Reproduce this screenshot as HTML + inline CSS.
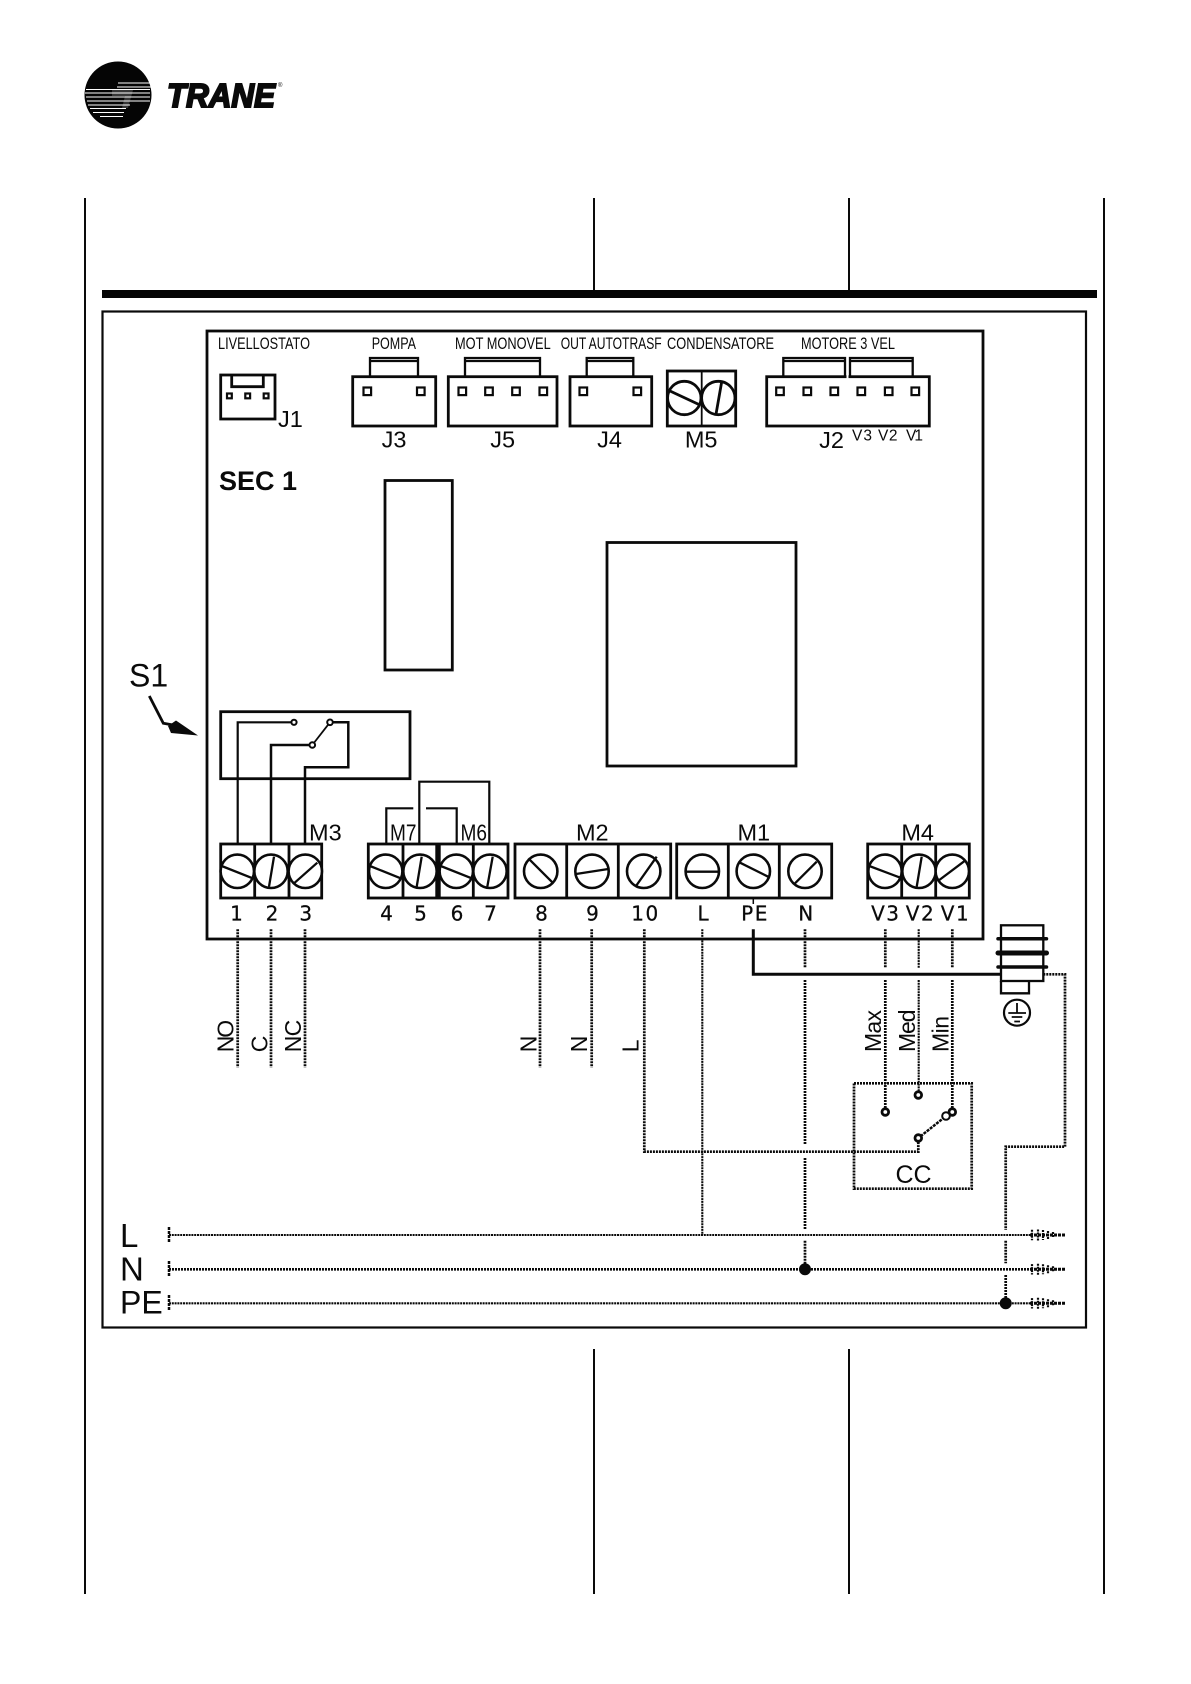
<!DOCTYPE html>
<html><head><meta charset="utf-8"><style>
html,body{margin:0;padding:0;background:#fff}
svg{display:block}
text{font-family:"Liberation Sans",sans-serif;fill:#0a0a0a}
.b{fill:none;stroke:#0a0a0a;stroke-width:2.8}
.t{fill:none;stroke:#0a0a0a;stroke-width:1.8}
.s{fill:#fff;stroke:#0a0a0a;stroke-width:2}
.d{fill:none;stroke:#0a0a0a;stroke-width:2.7;stroke-dasharray:2 1}
.h{fill:none;stroke:#0a0a0a;stroke-width:2.100;stroke-dasharray:2 .8}
.sl{font-size:16.5px}
.c{font-size:23.5px;text-anchor:middle}
.n{font-family:"DejaVu Sans",sans-serif;font-size:20px;text-anchor:middle;letter-spacing:1.5px;fill:#0a0a0a;stroke:#0a0a0a;stroke-width:.25}
.r{font-size:23px}
</style></head><body>
<svg xmlns="http://www.w3.org/2000/svg" width="1191" height="1684" viewBox="0 0 1191 1684">
<rect width="1191" height="1684" fill="#fff"/>

<!-- logo -->
<circle cx="118" cy="95" r="33.500" fill="#050505"/>
<g stroke="#fff" stroke-width="1.100" fill="none">
<path d="M118 83H151M117 87H151" stroke-width=".9"/>
<path d="M86 89.500H150M85 93H150M86 97H150M87 101H150M88 105H130M90 108.500H126M93 112.500H124M100 116.500H123"/>
</g>
<path d="M112 90H133L128 108H122L125 96H112Z" fill="#fff" opacity=".2"/>
<text x="167" y="107" font-size="33" font-weight="bold" font-style="italic" textLength="108" lengthAdjust="spacingAndGlyphs" stroke="#0a0a0a" stroke-width="2">TRANE</text>
<text x="278" y="87" font-size="6">®</text>

<!-- page rules -->
<g stroke="#0a0a0a" stroke-width="2" fill="none">
<path d="M85 198V291M85 1348V1594M1104 198V291M1104 1348V1594M85 290V1348M1104 290V1348"/>
<path d="M594 198V291M849 198V291M594 1349V1594M849 1349V1594"/>
</g>
<rect x="102" y="290" width="995" height="8" fill="#050505"/>
<rect x="102.500" y="311.500" width="983.500" height="1016" fill="#fff" stroke="#0a0a0a" stroke-width="2.200"/>

<!-- board -->
<rect x="207" y="331" width="776" height="608" fill="none" stroke="#0a0a0a" stroke-width="2.800"/>
<rect x="385" y="480.500" width="67.300" height="189.500" class="b"/>
<rect x="607" y="542.500" width="189" height="223.500" class="b"/>

<!-- top labels -->
<text class="sl" x="218" y="349" textLength="92" lengthAdjust="spacingAndGlyphs">LIVELLOSTATO</text>
<text class="sl" x="371.700" y="349" textLength="44.300" lengthAdjust="spacingAndGlyphs">POMPA</text>
<text class="sl" x="455" y="349" textLength="95.700" lengthAdjust="spacingAndGlyphs">MOT MONOVEL</text>
<text class="sl" x="560.700" y="349" textLength="101" lengthAdjust="spacingAndGlyphs">OUT AUTOTRASF</text>
<text class="sl" x="667" y="349" textLength="107" lengthAdjust="spacingAndGlyphs">CONDENSATORE</text>
<text class="sl" x="801" y="349" textLength="94" lengthAdjust="spacingAndGlyphs">MOTORE 3 VEL</text>

<!-- J1 -->
<rect x="220.700" y="375" width="54.300" height="44" class="b"/>
<path d="M231.700 375V386.700H263.300V375" class="b"/>
<g fill="#fff" stroke="#0a0a0a" stroke-width="2.200"><rect x="227" y="393.500" width="4.800" height="4.800"/><rect x="245.300" y="393.500" width="4.800" height="4.800"/><rect x="263.700" y="393.500" width="4.800" height="4.800"/></g>
<text x="278" y="427" font-size="23.500">J1</text>

<!-- J3 -->
<rect x="352.700" y="376.700" width="83" height="49.300" class="b"/>
<path d="M370 376.700V358H418V376.700M370 361H418" class="b" style="stroke-width:2.300"/>
<!-- J5 -->
<rect x="448.300" y="376.700" width="108.700" height="49.300" class="b"/>
<path d="M465 376.700V358H540V376.700M465 361H540" class="b" style="stroke-width:2.300"/>
<!-- J4 -->
<rect x="570" y="376.700" width="81.700" height="49.300" class="b"/>
<path d="M586.700 376.700V358H633.300V376.700M586.700 361H633.300" class="b" style="stroke-width:2.300"/>
<!-- J2 -->
<rect x="766.700" y="376.700" width="162.600" height="49.300" class="b"/>
<path d="M783.300 376.700V358H845V376.700M783.300 361H845M850 376.700V358H912.700V376.700M850 361H912.700" class="b" style="stroke-width:2.300"/>
<path d="M846.500 376.700H848.500" stroke="#fff" stroke-width="3.500"/>
<g fill="#fff" stroke="#0a0a0a" stroke-width="2.200">
<rect x="363.500" y="387.500" width="7.600" height="7.600"/><rect x="417" y="387.500" width="7.600" height="7.600"/>
<rect x="458.500" y="387.500" width="7.600" height="7.600"/><rect x="485.200" y="387.500" width="7.600" height="7.600"/><rect x="512.200" y="387.500" width="7.600" height="7.600"/><rect x="539.500" y="387.500" width="7.600" height="7.600"/>
<rect x="579.500" y="387.500" width="7.600" height="7.600"/><rect x="633.500" y="387.500" width="7.600" height="7.600"/>
<rect x="776.200" y="387.500" width="7.600" height="7.600"/><rect x="803.500" y="387.500" width="7.600" height="7.600"/><rect x="830.500" y="387.500" width="7.600" height="7.600"/><rect x="857.500" y="387.500" width="7.600" height="7.600"/><rect x="884.900" y="387.500" width="7.600" height="7.600"/><rect x="911.500" y="387.500" width="7.600" height="7.600"/>
</g>
<text class="c" x="394" y="447.500">J3</text>
<text class="c" x="502.700" y="447.500">J5</text>
<text class="c" x="609.500" y="447.500">J4</text>
<text class="c" x="701.200" y="447.500">M5</text>
<text class="c" x="831.500" y="448">J2</text>
<text x="852" y="440.700" font-size="15.500" textLength="20">V3</text>
<text x="878" y="440.700" font-size="15.500" textLength="19.500">V2</text>
<text x="906" y="440.700" font-size="15.500" textLength="17">V1</text>
<text x="219" y="490" font-size="27" font-weight="bold">SEC 1</text>

<!-- M5 -->
<rect x="667.300" y="371" width="68.400" height="55" class="b"/>
<path d="M701.700 371V426" class="t"/>
<circle cx="684.300" cy="398" r="16.700" class="b"/><circle cx="718.300" cy="398" r="16.700" class="b"/>
<path d="M670 391L700 405M721.700 381.700L716 414.300" class="b"/>

<!-- S1 -->
<text x="129" y="686.500" font-size="32">S1</text>
<path d="M149.300 696L163.300 723.300L176 725.500" fill="none" stroke="#0a0a0a" stroke-width="2.800"/>
<path d="M176 720.500L198 735.500L171 733L168 726Z" fill="#0a0a0a"/>
<rect x="220.700" y="711.700" width="189.300" height="67" class="b"/>

<!-- S1 wiring -->
<path d="M237.700 844V722.300H291" class="t" style="stroke-width:2.200"/>
<path d="M271 844V745H309" class="b" style="stroke-width:2.500"/>
<path d="M312.300 745L330 722.300" class="t"/>
<path d="M333 722.300H348.300V767.300H305V844" class="b" style="stroke-width:2.500"/>
<circle cx="294" cy="722.300" r="2.600" class="s"/><circle cx="312.300" cy="745" r="2.800" class="s"/><circle cx="330" cy="722.300" r="2.800" class="s"/>
<path d="M386.300 844V808.300H413.300M426 808.300H456.700V844M419.300 844V781.700H489.300V844" fill="none" stroke="#0a0a0a" stroke-width="2.200"/>
<text x="309" y="840.500" font-size="23.500">M3</text>
<text x="390" y="840.500" font-size="23.500" textLength="26.500" lengthAdjust="spacingAndGlyphs">M7</text>
<text x="460.500" y="840.500" font-size="23.500" textLength="26.500" lengthAdjust="spacingAndGlyphs">M6</text>
<text class="c" x="592.300" y="840.700">M2</text>
<text class="c" x="753.800" y="840.700">M1</text>
<text class="c" x="917.700" y="840.700">M4</text>

<!-- terminal strips -->
<g class="b">
<rect x="220.700" y="844" width="101" height="54"/><path d="M254.700 844V898M289 844V898"/>
<rect x="368.300" y="844" width="68.400" height="54"/><path d="M403 844V898"/>
<rect x="439.300" y="844" width="68.700" height="54"/><path d="M473.300 844V898"/>
<rect x="515" y="844" width="155.700" height="54"/><path d="M566.700 844V898M618.300 844V898"/>
<rect x="676.700" y="844" width="155" height="54"/><path d="M728.300 844V898M779.300 844V898"/>
<rect x="867.700" y="844" width="101.600" height="54"/><path d="M901.700 844V898M935.700 844V898"/>
</g>
<g fill="#fff" stroke="#0a0a0a" stroke-width="2.600">
<circle cx="237.300" cy="871.300" r="16.700"/><circle cx="271" cy="871.300" r="16.700"/><circle cx="305.300" cy="871.300" r="16.700"/>
<circle cx="385.700" cy="871.300" r="16.700"/><circle cx="420" cy="871.300" r="16.700"/><circle cx="456.300" cy="871.300" r="16.700"/><circle cx="490" cy="871.300" r="16.700"/>
<circle cx="540.700" cy="871.300" r="16.700"/><circle cx="592" cy="871.300" r="16.700"/><circle cx="643.700" cy="871.300" r="16.700"/>
<circle cx="702.300" cy="871.300" r="16.700"/><circle cx="753.300" cy="871.300" r="16.700"/><circle cx="805" cy="871.300" r="16.700"/>
<circle cx="885" cy="871.300" r="16.700"/><circle cx="919" cy="871.300" r="16.700"/><circle cx="952.300" cy="871.300" r="16.700"/>
</g>
<path class="b" style="stroke-width:2.300" d="M221.700 866L252.700 878.300M274 856.700L269 886.700M294 883.300L317.300 862.700M370 866L400.700 878.300M421.700 856.700L416.700 886.700M440.700 866L471.700 878.300M492.700 856.700L487.300 886.700M528.300 858.300L553.300 883.300M576 874L608.300 869M636 886L656.700 856.700M685.700 871.700H719.300M739.300 862.300L769.300 877.300M795 883.300L816.700 861.700M869.300 866L899.300 877.300M921.700 856.700L916.700 886.700M939.300 880L965 860.700"/>

<!-- terminal numbers -->
<text class="n" x="237.300" y="920.700">1</text><text class="n" x="272.800" y="920.700">2</text><text class="n" x="306.500" y="920.700">3</text>
<text class="n" x="387.200" y="920.700">4</text><text class="n" x="421.200" y="920.700">5</text><text class="n" x="457.800" y="920.700">6</text><text class="n" x="491.200" y="920.700">7</text>
<text class="n" x="542.200" y="920.700">8</text><text class="n" x="593.200" y="920.700">9</text><text class="n" x="645.500" y="920.700">10</text>
<text class="n" x="703.800" y="920.700">L</text><text class="n" x="755" y="920.700">PE</text><text class="n" x="806.500" y="920.700">N</text>
<text class="n" x="885.800" y="920.700">V3</text><text class="n" x="920.500" y="920.700">V2</text><text class="n" x="955.500" y="920.700">V1</text>

<!-- dashed wires down -->
<path class="d" d="M237.700 929.300V1067.500M271 929.300V1067.500M305 929.300V1067.500M540 929.300V1067.500M591.700 929.300V1067.500"/>
<path class="d" d="M644.300 929.300V1151.700H918.300V1138"/>
<path class="h" d="M702.300 929.300V1235"/>
<path class="d" d="M805 929.300V967.700M805 980V1145M805 1158V1229.300M805 1240.700V1269"/>
<path class="d" d="M885.300 929.300V967.700M885.300 980V1112"/>
<path class="h" d="M918.700 929.300V967.700M918.700 980V1095"/>
<path class="d" d="M952.300 929.300V967.700M952.300 980V1112"/>
<path d="M753.300 899V904" stroke="#0a0a0a" stroke-width="1.500"/>
<path d="M753.300 929.300V974.300H1001" fill="none" stroke="#0a0a0a" stroke-width="3"/>
<path class="d" d="M1043.300 974.300H1065V1146.700H1005.700V1230M1005.700 1240.700V1263.300M1005.700 1275V1303"/>

<!-- CC -->
<rect x="854" y="1083.300" width="117.700" height="105.400" class="d"/>
<g fill="#fff" stroke="#0a0a0a" stroke-width="2.800">
<circle cx="885.300" cy="1112" r="3.300"/><circle cx="918.300" cy="1095" r="3.300"/><circle cx="952.300" cy="1112" r="3.300"/><circle cx="918.300" cy="1138" r="3.300"/>
</g>
<path d="M920.500 1136.300L943 1118.500" stroke="#0a0a0a" stroke-width="2.500" stroke-dasharray="3 1" fill="none"/>
<circle cx="946" cy="1116" r="3.800" fill="#fff" stroke="#0a0a0a" stroke-width="2"/>
<text x="895.500" y="1183" font-size="25">CC</text>

<!-- coil + earth -->
<rect x="1001" y="925.300" width="42.300" height="55.700" class="b" style="stroke-width:2.300"/>
<path d="M1001 981V993.300H1029V981" class="b" style="stroke-width:2.300"/>
<path d="M998 938.700H1046.500M998 967H1046.500" stroke="#0a0a0a" stroke-width="3.500" stroke-linecap="round"/>
<path d="M998 953H1046.500" stroke="#0a0a0a" stroke-width="5" stroke-linecap="round"/>
<circle cx="1017" cy="1012.700" r="13" fill="none" stroke="#0a0a0a" stroke-width="2.200"/>
<path d="M1017 1003V1013M1008.300 1013H1026M1011.700 1017H1022.300M1014.300 1021.500H1020" stroke="#0a0a0a" stroke-width="1.800"/>

<!-- rotated labels -->
<text class="r" transform="translate(233.500,1052.300) rotate(-90)" textLength="32.500">NO</text>
<text class="r" transform="translate(267.500,1052.300) rotate(-90)">C</text>
<text class="r" transform="translate(301,1052.300) rotate(-90)" textLength="32.500">NC</text>
<text class="r" transform="translate(536.500,1052.300) rotate(-90)">N</text>
<text class="r" transform="translate(587,1052.300) rotate(-90)">N</text>
<text class="r" transform="translate(638.500,1052.300) rotate(-90)">L</text>
<text class="r" transform="translate(881,1052) rotate(-90)" textLength="42">Max</text>
<text class="r" transform="translate(915,1052) rotate(-90)" textLength="42.500">Med</text>
<text class="r" transform="translate(948.300,1052) rotate(-90)" textLength="36">Min</text>

<!-- buses -->
<text x="120" y="1247" font-size="33">L</text>
<text x="120" y="1280.500" font-size="33">N</text>
<text x="120" y="1313.500" font-size="32">PE</text>
<path class="h" d="M169 1235H1030"/>
<path class="d" style="stroke-width:2.700" d="M169 1269.300H1030"/>
<path class="h" d="M169 1303.300H1030"/>
<path d="M169 1227V1243M169 1261V1277M169 1295V1311" stroke="#0a0a0a" stroke-width="2.500" stroke-dasharray="3 1" fill="none"/>
<circle cx="805" cy="1269.300" r="6" fill="#0a0a0a"/>
<circle cx="1005.700" cy="1303.300" r="6" fill="#0a0a0a"/>
<g fill="none" stroke="#0a0a0a" stroke-width="2.200" stroke-dasharray="2 1">
<path d="M1032 1229.800V1240.200M1038 1229.500V1240.500M1043 1230V1240M1048 1231V1239M1053 1232V1238"/>
<path d="M1032 1264.100V1274.500M1038 1263.800V1274.800M1043 1264.300V1274.300M1048 1265.300V1273.300M1053 1266.300V1272.300"/>
<path d="M1032 1298.100V1308.500M1038 1297.800V1308.800M1043 1298.300V1308.300M1048 1299.300V1307.300M1053 1300.300V1306.300"/>
</g>
<path d="M1030 1235H1065.700M1030 1269.300H1065.700M1030 1303.300H1065.700" stroke="#0a0a0a" stroke-width="3" stroke-dasharray="3 1"/>
</svg>
</body></html>
